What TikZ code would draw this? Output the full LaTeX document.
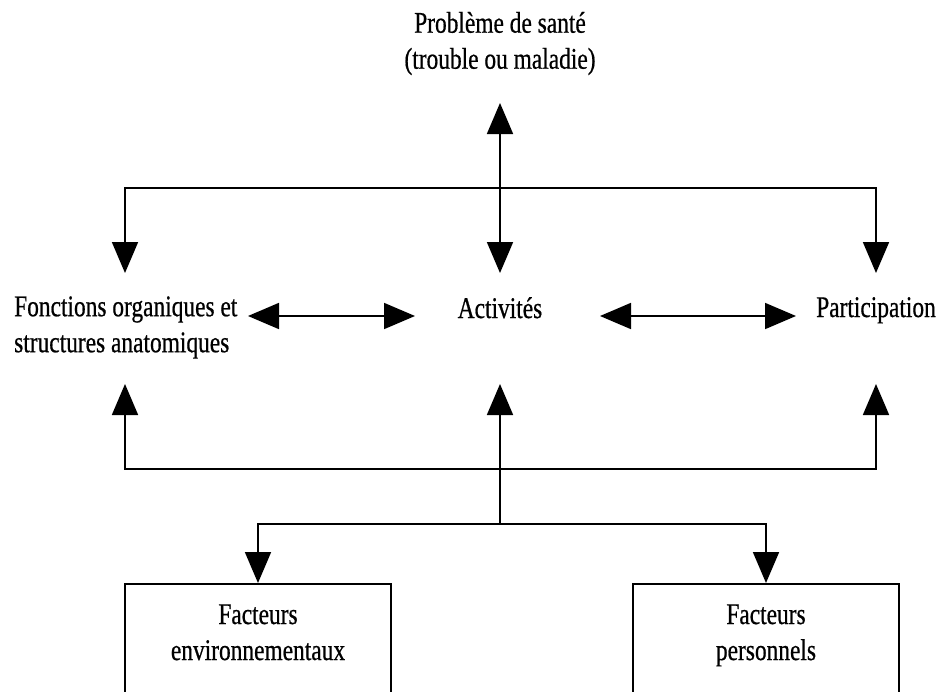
\documentclass[tikz,border=0pt]{standalone}
\usepackage{fontspec}
\setmainfont{Liberation Serif}[FakeStretch=0.78,FakeBold=0.6]
\usetikzlibrary{arrows.meta}
\begin{document}
\begin{tikzpicture}[x=1pt,y=-1pt,
  line/.style={line width=1.8pt},
  tip/.tip={Triangle[width=26pt,length=31pt]},
  lbl/.style={inner sep=0pt, font=\fontsize{30}{36}\selectfont},
  fbox/.style={draw, line width=1.8pt, minimum width=266pt, minimum height=140pt, anchor=north, inner sep=0pt}]
\useasboundingbox (0,0) rectangle (942,691);
\clip (0,0) rectangle (942,691);
\fill[white] (0,0) rectangle (942,691);
% text nodes
\node[lbl, align=center] (title) at (500,43.5) {\strut Problème de santé\\\strut(trouble ou maladie)};
\node[lbl, anchor=base] (act) at (500,318) {Activités};
\node[lbl, anchor=base] (part) at (876,317) {Participation};
\node[lbl, align=left, anchor=west] (fonct) at (14,327) {\strut Fonctions organiques et\\\strut structures anatomiques};
% boxes
\node[fbox] (env) at (258,583) {};
\node[fbox] (pers) at (766,583) {};
\node[lbl, align=center] (envt) at (258,634.8) {\strut Facteurs\\\strut environnementaux};
\node[lbl, align=center] (perst) at (766,634.8) {\strut Facteurs\\\strut personnels};
% arrow end points
\coordinate (tU) at (500,103);
\coordinate (aD) at (500,273);
\coordinate (fD) at (125,273);
\coordinate (pD) at (876,273);
\coordinate (topJ) at (500,188);
\coordinate (fL) at (248,316);
\coordinate (aL) at (415,316);
\coordinate (aR) at (600,316);
\coordinate (pR) at (796,316);
\coordinate (fU) at (125,384);
\coordinate (aU) at (500,384);
\coordinate (pU) at (876,384);
\coordinate (botJ) at (500,469);
\coordinate (facJ) at (500,524);
% connectors
\draw[line, tip-tip] (tU) -- (aD);
\draw[line, tip-tip] (fD) |- (topJ) -| (pD);
\draw[line, tip-tip] (fL) -- (aL);
\draw[line, tip-tip] (aR) -- (pR);
\draw[line, tip-tip] (fU) |- (botJ) -| (pU);
\draw[line, -tip] (facJ) -- (aU);
\draw[line, tip-tip] (env.north) |- (facJ) -| (pers.north);
\end{tikzpicture}
\end{document}
